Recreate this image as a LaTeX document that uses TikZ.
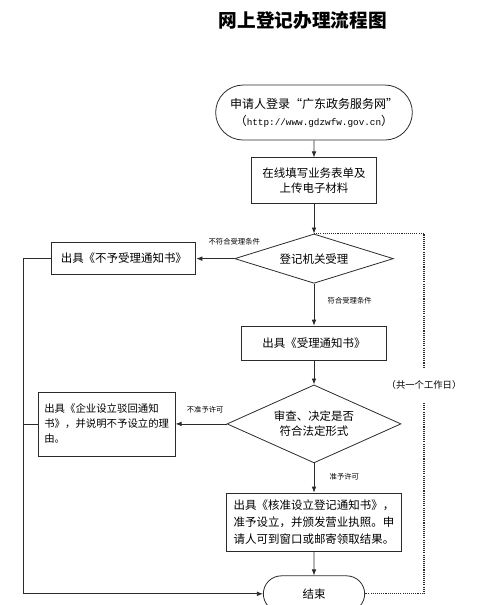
\documentclass[tikz,border=0pt]{standalone}
\usepackage{fontspec}
\setmainfont{Noto Sans CJK SC}
\newfontfamily\urlfont{Liberation Mono}
\usetikzlibrary{arrows.meta,positioning,shapes.geometric,shapes.misc}
\definecolor{FlowLine}{HTML}{2B2B2B}

\begin{document}
\begin{tikzpicture}[font=\fontsize{8.6pt}{11.5pt}\selectfont,
  line width=0.6pt,
  term/.style={draw=FlowLine,rounded rectangle,align=center,inner sep=2pt},
  box/.style={draw=FlowLine,rectangle,align=center,inner sep=2pt},
  dec/.style={draw=FlowLine,diamond,align=center,inner sep=0pt},
  lbl/.style={font=\fontsize{5.5pt}{6pt}\selectfont,inner sep=1pt},
  flow/.style={draw=FlowLine,-{Latex[length=4.5pt,width=3.5pt]}}]
  \useasboundingbox (0,0) rectangle (375pt,-453.75pt);
  \node[font=\fontsize{14pt}{16pt}\selectfont\bfseries] (title) at (227pt,-15pt) {网上登记办理流程图};
  \node[term,minimum width=151.5pt,minimum height=41.25pt,font=\fontsize{9pt}{12.75pt}\selectfont] (start) at (235.5pt,-84.4pt) {申请人登录“广东政务服务网”\\（{\urlfont\fontsize{7pt}{8pt}\selectfont http://www.gdzwfw.gov.cn}）};
  \node[box,below=12.75pt of start,minimum width=93.75pt,minimum height=34.5pt] (fill) {在线填写业务表单及\\上传电子材料};
  \node[dec,aspect=3.2,below=22pt of fill,minimum width=119pt,minimum height=37pt] (accept) {登记机关受理};
  \node[box,below=31.5pt of accept,minimum width=108.75pt,minimum height=25.5pt] (notice) {出具《受理通知书》};
  \node[dec,aspect=2.23,below=18pt of notice,minimum width=130.5pt,minimum height=58.5pt] (review) {审查、决定是否\\符合法定形式};
  \node[box,below=22pt of review,minimum width=131pt,minimum height=43.5pt,align=left,font=\fontsize{8.6pt}{13pt}\selectfont] (grant) {出具《核准设立登记通知书》，\\准予设立，并颁发营业执照。申\\请人可到窗口或邮寄领取结果。};
  \node[term,below=18pt of grant,minimum width=80pt,minimum height=27pt] (end) {结束};
  \node[box,left=28.5pt of accept,minimum width=108pt,minimum height=24pt] (refuse) {出具《不予受理通知书》};
  \node[box,left=38.25pt of review,minimum width=102.75pt,minimum height=48pt,align=left,font=\fontsize{7.8pt}{11.25pt}\selectfont] (reject) {出具《企业设立驳回通知\\书》，并说明不予设立的理\\由。};
  % main column
  \foreach \a/\b in {start/fill,fill/accept,accept/notice,notice/review,review/grant,grant/end}{\draw[flow] (\a) -- (\b);}
  \draw[flow] (accept) -- (refuse);
  \draw[flow] (review) -- (reject);
  \node[lbl,above=9pt of accept.west] (nofit) {不符合受理条件};
  \node[lbl,below right=9pt and 9pt of accept.south] (fit) {符合受理条件};
  \node[lbl,above left=7pt and 1pt of review.west] (deny) {不准予许可};
  \node[lbl,below right=6pt and 10.5pt of review.south] (allow) {准予许可};
  % left rail back to the end
  \draw[flow] (refuse.west) -- ++(-21pt,0) coordinate (rail) |- (end.west);
  \draw[FlowLine] (reject.west) -- (reject.west -| rail);
  % time span
  \coordinate (dayx) at (318pt,-288.75pt);
  \draw[FlowLine,line width=0.8pt,dash pattern=on 0.8pt off 0.8pt] (accept.north) -| (dayx |- end.east) -- (end.east);
  \node[fill=white,inner sep=1pt,minimum height=26pt,font=\fontsize{7pt}{8pt}\selectfont] (days) at (dayx) {（共一个工作日）};
\end{tikzpicture}
\end{document}
